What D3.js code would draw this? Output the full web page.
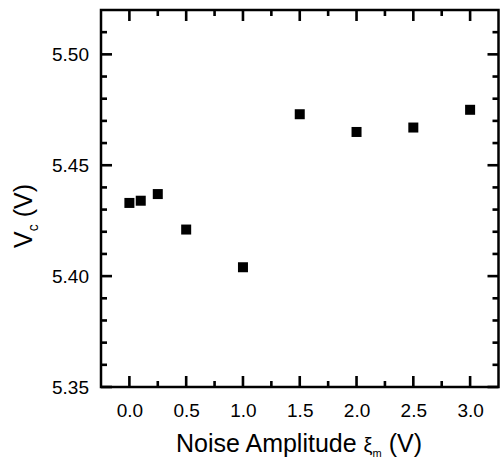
<!DOCTYPE html>
<html>
<head>
<meta charset="utf-8">
<script src="https://cdn.jsdelivr.net/npm/d3@7"></script>
<style>
  html, body { margin: 0; padding: 0; background: #fff; }
</style>
</head>
<body>
<svg id="chart" width="500" height="461"></svg>
<script>
// Data
const noiseAmplitude = [0.0, 0.1, 0.25, 0.5, 1.0, 1.5, 2.0, 2.5, 3.0];
const vcValues = [5.433, 5.434, 5.437, 5.421, 5.404, 5.473, 5.465, 5.467, 5.475];
const xTickValues = [0.0, 0.5, 1.0, 1.5, 2.0, 2.5, 3.0];
const xMinorValues = [0.25, 0.75, 1.25, 1.75, 2.25, 2.75];
const yTickValues = [5.35, 5.40, 5.45, 5.50];
const yMinorValues = [5.36, 5.37, 5.38, 5.39, 5.41, 5.42, 5.43, 5.44, 5.46, 5.47, 5.48, 5.49, 5.51];

const svg = d3.select("#chart");
const L = 101, R = 498.5, T = 10, B = 387;

const x = d3.scaleLinear().domain([-0.25, 3.25]).range([L, R]);
const y = d3.scaleLinear().domain([5.35, 5.52]).range([B, T]);

const fontFam = '"Liberation Sans", Arial, sans-serif';

// Frame
svg.append("rect").attr("x", L).attr("y", T).attr("width", R - L).attr("height", B - T)
  .attr("fill", "none").attr("stroke", "#000").attr("stroke-width", 2.5);

// Tick marks as filled rects (inward, mirrored on all sides)
const tw = 2.6;
const xt = xTickValues.map(v => ({v: v, len: 11})).concat(xMinorValues.map(v => ({v: v, len: 6})));
const yt = yTickValues.map(v => ({v: v, len: 11})).concat(yMinorValues.map(v => ({v: v, len: 6})));
const tg = svg.append("g").attr("class", "tickmarks").attr("fill", "#000");
tg.selectAll("rect.xb").data(xt).join("rect").attr("class", "xb")
  .attr("x", d => x(d.v) - tw / 2).attr("y", d => B - d.len).attr("width", tw).attr("height", d => d.len);
tg.selectAll("rect.xt").data(xt).join("rect").attr("class", "xt")
  .attr("x", d => x(d.v) - tw / 2).attr("y", T).attr("width", tw).attr("height", d => d.len);
tg.selectAll("rect.yl").data(yt).join("rect").attr("class", "yl")
  .attr("x", L).attr("y", d => y(d.v) - tw / 2).attr("width", d => d.len).attr("height", tw);
tg.selectAll("rect.yr").data(yt).join("rect").attr("class", "yr")
  .attr("x", d => R - d.len).attr("y", d => y(d.v) - tw / 2).attr("width", d => d.len).attr("height", tw);

// Tick labels via d3 axes
const gx = svg.append("g").attr("transform", `translate(0,${B})`)
  .call(d3.axisBottom(x).tickValues(xTickValues).tickFormat(d3.format(".1f")).tickSize(0).tickPadding(17));
gx.select(".domain").remove();
gx.selectAll(".tick line").remove();
gx.selectAll(".tick text").attr("fill", "#000").style("font-size", "19px").style("font-family", fontFam);

const gy = svg.append("g").attr("transform", `translate(${L},0)`)
  .call(d3.axisLeft(y).tickValues(yTickValues).tickFormat(d3.format(".2f")).tickSize(0).tickPadding(12));
gy.select(".domain").remove();
gy.selectAll(".tick line").remove();
gy.selectAll(".tick text").attr("fill", "#000").style("font-size", "19px").style("font-family", fontFam);

// Points
const sz = 10;
svg.append("g").selectAll("rect.pt").data(noiseAmplitude.map((d, i) => [d, vcValues[i]]))
  .join("rect").attr("class", "pt")
  .attr("x", d => x(d[0]) - sz / 2).attr("y", d => y(d[1]) - sz / 2)
  .attr("width", sz).attr("height", sz).attr("fill", "#000");

// X label
const xl = svg.append("text").attr("x", 299).attr("y", 452).attr("text-anchor", "middle")
  .style("font-size", "25px").style("font-family", fontFam).attr("fill", "#000");
xl.append("tspan").text("Noise Amplitude ");
xl.append("tspan").text("ξ").style("font-size", "20px");
xl.append("tspan").text("m").style("font-size", "11px").attr("dy", 5);
xl.append("tspan").text(" (V)").attr("dy", -5);

// Y label
const yl = svg.append("text").attr("transform", "translate(32,248) rotate(-90)").attr("text-anchor", "start")
  .style("font-size", "25px").style("font-family", fontFam).attr("fill", "#000");
yl.append("tspan").text("V");
yl.append("tspan").text("c").style("font-size", "14px").attr("dy", 6);
yl.append("tspan").text(" (V)").attr("dy", -6);
</script>
</body>
</html>
